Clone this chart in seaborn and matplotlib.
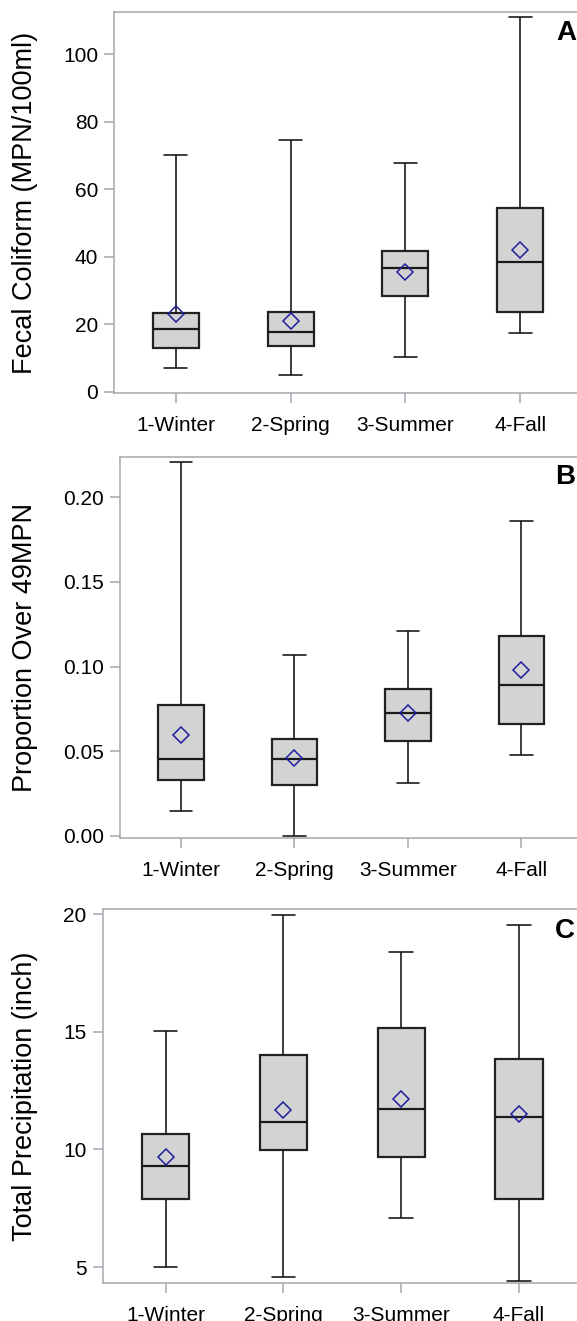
import numpy as np
import pandas as pd
import matplotlib
matplotlib.use("Agg")
import matplotlib.pyplot as plt
import seaborn as sns

# ---------------- data ----------------
seasons = ["1-Winter", "2-Spring", "3-Summer", "4-Fall"]

# Panel A: Fecal Coliform (MPN/100ml)  -- whisker low, Q1, median, Q3, whisker high, mean
fecal_low = [7.0, 4.8, 10.4, 17.3]
fecal_q1 = [13.0, 13.5, 28.4, 23.5]
fecal_median = [18.5, 17.6, 36.6, 38.3]
fecal_q3 = [23.3, 23.6, 41.7, 54.4]
fecal_high = [70.1, 74.6, 67.8, 111.2]
fecal_mean = [23.0, 20.8, 35.4, 41.9]

# Panel B: Proportion Over 49MPN
prop_low = [0.0150, 0.0000, 0.0311, 0.0480]
prop_q1 = [0.0333, 0.0301, 0.0563, 0.0663]
prop_median = [0.0457, 0.0453, 0.0724, 0.0894]
prop_q3 = [0.0776, 0.0573, 0.0866, 0.1183]
prop_high = [0.2209, 0.1071, 0.1211, 0.1862]
prop_mean = [0.0596, 0.0459, 0.0724, 0.0982]

# Panel C: Total Precipitation (inch)
precip_low = [5.00, 4.56, 7.07, 4.39]
precip_q1 = [7.88, 9.96, 9.68, 7.91]
precip_median = [9.30, 11.17, 11.73, 11.39]
precip_q3 = [10.66, 14.03, 15.15, 13.86]
precip_high = [15.01, 19.96, 18.40, 19.52]
precip_mean = [9.66, 11.69, 12.15, 11.49]

ylabels = ["Fecal Coliform (MPN/100ml)", "Proportion Over 49MPN", "Total Precipitation (inch)"]
panel_letters = ["A", "B", "C"]
yticks_a = [0, 20, 40, 60, 80, 100]
yticks_b = [0.00, 0.05, 0.10, 0.15, 0.20]
yticks_c = [5, 10, 15, 20]


def five_number_frame(low, q1, med, q3, high):
    rows = []
    for i, s in enumerate(seasons):
        for v in (low[i], q1[i], med[i], q3[i], high[i]):
            rows.append({"season": s, "value": v})
    return pd.DataFrame(rows)


panels = [
    (five_number_frame(fecal_low, fecal_q1, fecal_median, fecal_q3, fecal_high), fecal_mean, yticks_a, "{:.0f}"),
    (five_number_frame(prop_low, prop_q1, prop_median, prop_q3, prop_high), prop_mean, yticks_b, "{:.2f}"),
    (five_number_frame(precip_low, precip_q1, precip_median, precip_q3, precip_high), precip_mean, yticks_c, "{:.0f}"),
]

# ---------------- style ----------------
sns.set_theme(style="white")
plt.rcParams["font.family"] = ["Liberation Sans", "DejaVu Sans"]

W, H = 577, 1321
fig = plt.figure(figsize=(W / 100, H / 100), dpi=100)

# axes boxes in pixels: left, top, right, bottom
boxes = [(114, 12.3, 582, 393), (120.3, 456.7, 582, 838), (102.7, 909.3, 582, 1283.3)]
ylims = [(-0.4, 112.45), (-0.0012, 0.224), (4.31, 20.2)]
letter_pos = [(566, 33), (565, 477.5), (565, 930.5)]
spine_col = "#a3a7ac"

for k, (df, means, yt, fmt) in enumerate(panels):
    l, t, r, b = boxes[k]
    ax = fig.add_axes([l / W, 1 - b / H, (r - l) / W, (b - t) / H])
    sns.boxplot(
        data=df, x="season", y="value", order=seasons, ax=ax,
        whis=np.inf, width=0.4, color="#d3d3d3", saturation=1,
        linecolor="#222222", linewidth=1.6, showfliers=False,
        whiskerprops=dict(color="#111111", linewidth=1.15),
        capprops=dict(color="#111111", linewidth=1.15),
        medianprops=dict(color="#1a1a1a", linewidth=1.6),
    )
    sns.pointplot(
        x=seasons, y=means, order=seasons, ax=ax, linestyle="none",
        marker="D", color="#1f1f9e", markersize=8.6, markerfacecolor="none",
        markeredgewidth=1.1, errorbar=None, zorder=6,
    )
    ax.set_xlim(-0.535, 3.535)
    ax.set_ylim(*ylims[k])
    ax.set_yticks(yt)
    ax.set_yticklabels([fmt.format(v) for v in yt])
    ax.set_xlabel("")
    ax.set_ylabel(ylabels[k], fontsize=19.5, color="black")
    # place ylabel (right edge of rotated text) at ~38 px from figure left
    ax.yaxis.set_label_coords((38 - l) / (r - l), 0.5)
    ax.tick_params(axis="both", which="both", direction="out", length=7, width=1.1,
                   color=spine_col, labelsize=15, labelcolor="black",
                   left=True, bottom=True)
    ax.tick_params(axis="y", pad=4.5)
    ax.tick_params(axis="x", pad=9.5)
    for side in ["left", "bottom", "top", "right"]:
        ax.spines[side].set_visible(True)
        ax.spines[side].set_color(spine_col)
        ax.spines[side].set_linewidth(1.1)
    lx, ly = letter_pos[k]
    fig.text(lx / W, 1 - ly / H, panel_letters[k], fontsize=20, fontweight="bold",
             ha="center", va="center", color="black")

fig.savefig("out.png", dpi=100)
